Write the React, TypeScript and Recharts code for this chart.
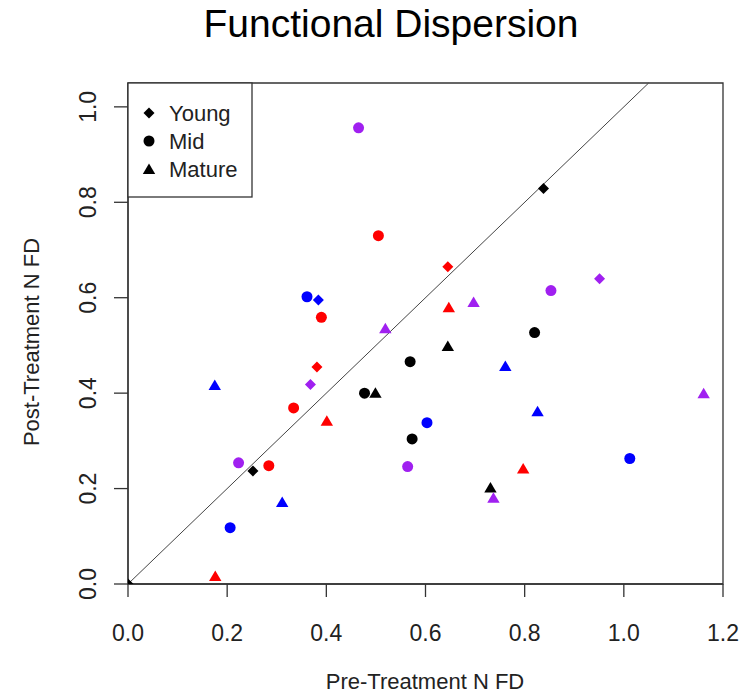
import { ScatterChart, Scatter, XAxis, YAxis, ReferenceLine, ReferenceArea } from "recharts";

// pre-treatment (x) vs post-treatment (y) functional dispersion, by stand age and site colour
const youngBlack = [{ x: 0.838, y: 0.829 }, { x: 0.252, y: 0.237 }, { x: 0, y: 0 }];
const midBlack = [{ x: 0.477, y: 0.4 }, { x: 0.82, y: 0.527 }, { x: 0.569, y: 0.466 }, { x: 0.573, y: 0.304 }];
const matureBlack = [{ x: 0.499, y: 0.401 }, { x: 0.645, y: 0.499 }, { x: 0.731, y: 0.202 }];

const youngRed = [{ x: 0.645, y: 0.665 }, { x: 0.381, y: 0.455 }];
const midRed = [{ x: 0.505, y: 0.73 }, { x: 0.39, y: 0.559 }, { x: 0.334, y: 0.369 }, { x: 0.284, y: 0.248 }];
const matureRed = [{ x: 0.647, y: 0.58 }, { x: 0.401, y: 0.342 }, { x: 0.176, y: 0.017 }, { x: 0.797, y: 0.242 }];

const youngBlue = [{ x: 0.384, y: 0.595 }];
const midBlue = [{ x: 0.361, y: 0.602 }, { x: 0.206, y: 0.118 }, { x: 0.603, y: 0.338 }, { x: 1.012, y: 0.263 }];
const matureBlue = [{ x: 0.175, y: 0.417 }, { x: 0.311, y: 0.172 }, { x: 0.761, y: 0.457 }, { x: 0.826, y: 0.362 }];

const youngPurple = [{ x: 0.951, y: 0.64 }, { x: 0.368, y: 0.418 }];
const midPurple = [{ x: 0.465, y: 0.956 }, { x: 0.853, y: 0.615 }, { x: 0.223, y: 0.254 }, { x: 0.564, y: 0.246 }];
const maturePurple = [{ x: 0.697, y: 0.591 }, { x: 0.519, y: 0.536 }, { x: 1.161, y: 0.4 }, { x: 0.737, y: 0.181 }];

const xTicks = [0, 0.2, 0.4, 0.6, 0.8, 1.0, 1.2];
const yTicks = [0, 0.2, 0.4, 0.6, 0.8, 1.0];
const legendLabels = ["Young", "Mid", "Mature"];

const FONT = '"Liberation Sans", Arial, sans-serif';
const AXIS = "#333";

const Diamond = ({ cx, cy, fill }: any) => (
  <polygon points={`${cx},${cy - 5.5} ${cx + 5.5},${cy} ${cx},${cy + 5.5} ${cx - 5.5},${cy}`} fill={fill} />
);
const Dot = ({ cx, cy, fill }: any) => <circle cx={cx} cy={cy} r={5.5} fill={fill} />;
const Tri = ({ cx, cy, fill }: any) => (
  <polygon points={`${cx},${cy - 5.5} ${cx + 6.2},${cy + 5} ${cx - 6.2},${cy + 5}`} fill={fill} />
);

const XTick = ({ x, y, payload }: any) => (
  <text x={x} y={y + 42} textAnchor="middle" fontSize={23} fontFamily={FONT} fill="#222">
    {payload.value.toFixed(1)}
  </text>
);
const YTick = ({ x, y, payload }: any) => (
  <text
    x={x - 16}
    y={y}
    transform={`rotate(-90 ${x - 16} ${y})`}
    textAnchor="middle"
    fontSize={23}
    fontFamily={FONT}
    fill="#222"
  >
    {payload.value.toFixed(1)}
  </text>
);

const series = [
  { data: youngBlack, color: "#000000", shape: Diamond },
  { data: midBlack, color: "#000000", shape: Dot },
  { data: matureBlack, color: "#000000", shape: Tri },
  { data: youngRed, color: "#FF0000", shape: Diamond },
  { data: midRed, color: "#FF0000", shape: Dot },
  { data: matureRed, color: "#FF0000", shape: Tri },
  { data: youngBlue, color: "#0000FF", shape: Diamond },
  { data: midBlue, color: "#0000FF", shape: Dot },
  { data: matureBlue, color: "#0000FF", shape: Tri },
  { data: youngPurple, color: "#A020F0", shape: Diamond },
  { data: midPurple, color: "#A020F0", shape: Dot },
  { data: maturePurple, color: "#A020F0", shape: Tri },
];

export default function App() {
  return (
    <div style={{ position: "absolute", left: 0, top: 0, width: 750, height: 697, background: "#fff" }}>
      <ScatterChart width={750} height={697} margin={{ top: 83, right: 27, bottom: 0, left: 0 }}>
        <XAxis
          type="number"
          dataKey="x"
          domain={[0, 1.2]}
          ticks={xTicks}
          allowDataOverflow
          height={113}
          tickSize={13}
          stroke={AXIS}
          strokeWidth={1.3}
          tick={<XTick />}
        />
        <YAxis
          type="number"
          dataKey="y"
          domain={[0, 1.05]}
          ticks={yTicks}
          allowDataOverflow
          width={128}
          tickSize={14}
          stroke={AXIS}
          strokeWidth={1.3}
          tick={<YTick />}
        />
        <ReferenceArea x1={0} x2={1.2} y1={0} y2={1.05} fill="none" stroke={AXIS} strokeWidth={1.3} fillOpacity={0} />
        <ReferenceLine
          segment={[{ x: 0, y: 0 }, { x: 1.05, y: 1.05 }]}
          stroke="#444"
          strokeWidth={1}
        />
        {series.map((s, i) => (
          <Scatter key={i} data={s.data} fill={s.color} shape={s.shape} isAnimationActive={false} />
        ))}
      </ScatterChart>
      <svg width={750} height={697} style={{ position: "absolute", left: 0, top: 0, pointerEvents: "none" }}>
        <text x={391} y={37} textAnchor="middle" fontSize={39} fontFamily={FONT} fill="#000">
          Functional Dispersion
        </text>
        <text x={425} y={689} textAnchor="middle" fontSize={22} fontFamily={FONT} fill="#222">
          Pre-Treatment N FD
        </text>
        <text
          x={39}
          y={342}
          transform="rotate(-90 39 342)"
          textAnchor="middle"
          fontSize={22}
          fontFamily={FONT}
          fill="#222"
        >
          Post-Treatment N FD
        </text>
        <g>
          <rect x={128} y={83} width={124} height={114} fill="#fff" stroke={AXIS} strokeWidth={1.3} />
          {legendLabels.map((label, i) => {
            const cy = 113 + i * 28;
            const Shape = [Diamond, Dot, Tri][i];
            return (
              <g key={label}>
                <Shape cx={149} cy={cy} fill="#000" />
                <text x={169} y={cy + 8} fontSize={22} fontFamily={FONT} fill="#222">
                  {label}
                </text>
              </g>
            );
          })}
        </g>
      </svg>
    </div>
  );
}
